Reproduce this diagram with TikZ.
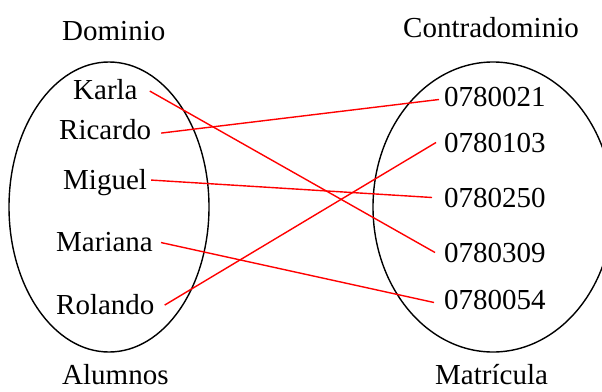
\documentclass[tikz,border=0pt]{standalone}
\usepackage{fontspec}
\setmainfont{Liberation Serif}
\begin{document}
\begin{tikzpicture}[x=1pt,y=-1pt,
  lbl/.style={inner sep=0pt,anchor=base west,font=\fontsize{29}{34}\selectfont},
  setshape/.style={draw=black,line width=1.4pt},
  link/.style={draw=red,line width=1.4pt}]
\useasboundingbox (0,0) rectangle (602,391);
\draw[setshape] (109,207) ellipse [x radius=100, y radius=145];
\draw[setshape] (493,207) ellipse [x radius=120, y radius=145];
\node[lbl] (dom) at (62,40) {Dominio};
\node[lbl] (cod) at (403,37) {Contradominio};
\node[lbl] (alu) at (62,384) {Alumnos};
\node[lbl] (mat) at (435,384) {Matrícula};
\node[lbl] (karla) at (73,99) {Karla};
\node[lbl] (ricardo) at (59,139) {Ricardo};
\node[lbl] (miguel) at (63,189) {Miguel};
\node[lbl] (mariana) at (56,251) {Mariana};
\node[lbl] (rolando) at (56,314) {Rolando};
\node[lbl] (n21) at (444,106) {0780021};
\node[lbl] (n103) at (444,152) {0780103};
\node[lbl] (n250) at (444,207) {0780250};
\node[lbl] (n309) at (444,262) {0780309};
\node[lbl] (n54) at (444,309) {0780054};
\draw[link] ([shift={(12,2)}]karla.east) -- ([shift={(-9,0)}]n309.west);
\draw[link] ([shift={(10,4)}]ricardo.east) -- ([shift={(-5,3)}]n21.west);
\draw[link] ([shift={(4,-2)}]miguel.east) -- ([shift={(-12,0)}]n250.west);
\draw[link] ([shift={(8,1)}]mariana.east) -- ([shift={(-10,3)}]n54.west);
\draw[link] ([shift={(10,1)}]rolando.east) -- ([shift={(-8,0)}]n103.west);
\end{tikzpicture}
\end{document}
